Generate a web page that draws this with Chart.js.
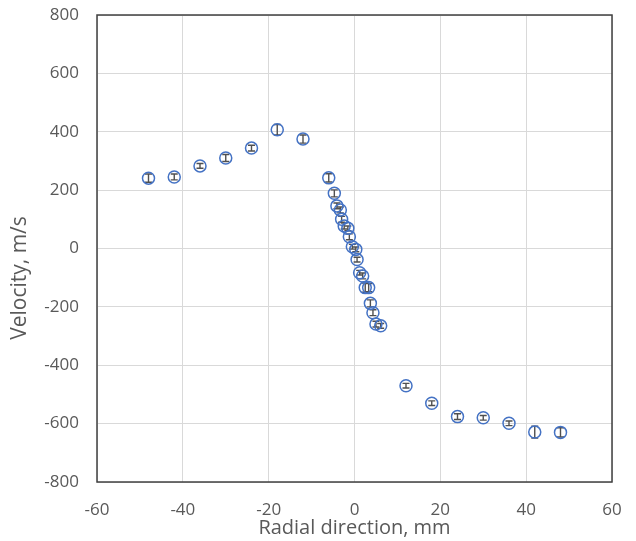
<!DOCTYPE html>
<html>
<head>
<meta charset="utf-8">
<script src="https://cdn.jsdelivr.net/npm/chart.js@4/dist/chart.umd.min.js"></script>
<style>
  html, body { margin: 0; padding: 0; background: #ffffff; }
  #wrap { width: 636px; height: 541px; position: relative; }
</style>
</head>
<body>
<div id="wrap"><canvas id="c" width="636" height="541"></canvas></div>
<script>
// Radial position (mm)
const radialMm = [-48, -42, -36, -30, -24, -18, -12, -6.0, -4.7, -4.1, -3.3, -3.0, -2.4, -1.55, -1.2, -0.5, 0.3, 0.6, 1.2, 1.9, 2.5, 3.3, 3.7, 4.3, 5.0, 6.1, 12, 18, 24, 30, 36, 42, 48];
// Velocity (m/s)
const velocity = [241, 245, 283, 310, 344, 407, 375, 242, 189, 146, 132, 100, 77, 69, 40, 6, -3, -38, -83, -94, -134, -134, -188, -220, -259, -265, -470, -530, -576, -580, -599, -629, -630];
// Error (± m/s)
const velocityErr = [14, 10, 8, 12, 10, 18, 14, 14, 12, 10, 10, 10, 10, 8, 10, 8, 8, 8, 8, 10, 16, 14, 12, 10, 10, 8, 8, 8, 10, 8, 8, 20, 16];

const xTicks = [-60, -40, -20, 0, 20, 40, 60];
const yTicks = [-800, -600, -400, -200, 0, 200, 400, 600, 800];
const xTitle = 'Radial direction, mm';
const yTitle = 'Velocity, m/s';

const points = radialMm.map((x, i) => ({ x: x, y: velocity[i] }));

const errorBars = {
  id: 'errorBars',
  beforeDatasetsDraw(chart) {
    const ctx = chart.ctx;
    const xs = chart.scales.x, ys = chart.scales.y;
    ctx.save();
    ctx.strokeStyle = '#505050';
    ctx.lineWidth = 1.4;
    radialMm.forEach((x, i) => {
      const px = xs.getPixelForValue(x);
      const pTop = ys.getPixelForValue(velocity[i] + velocityErr[i]);
      const pBot = ys.getPixelForValue(velocity[i] - velocityErr[i]);
      ctx.beginPath();
      ctx.moveTo(px, pTop); ctx.lineTo(px, pBot);
      ctx.moveTo(px - 3.5, pTop); ctx.lineTo(px + 3.5, pTop);
      ctx.moveTo(px - 3.5, pBot); ctx.lineTo(px + 3.5, pBot);
      ctx.stroke();
    });
    ctx.restore();
  },
  afterDraw(chart) {
    const a = chart.chartArea, ctx = chart.ctx;
    ctx.save();
    ctx.strokeStyle = '#404040';
    ctx.lineWidth = 1.5;
    ctx.strokeRect(a.left, a.top, a.right - a.left, a.bottom - a.top);
    // vertical axis title (centred as in the reference)
    ctx.translate(20.5, 278);
    ctx.rotate(-Math.PI / 2);
    ctx.fillStyle = '#595959';
    ctx.font = '21px "Open Sans"';
    ctx.textAlign = 'center';
    ctx.textBaseline = 'middle';
    ctx.fillText(yTitle, 0, 0);
    ctx.restore();
  }
};

function noPad(s) { s.paddingTop = 0; s.paddingBottom = 0; s.paddingLeft = 0; s.paddingRight = 0; }

new Chart(document.getElementById('c'), {
  type: 'scatter',
  data: {
    datasets: [{
      data: points,
      showLine: false,
      pointStyle: 'circle',
      pointRadius: 6,
      pointHoverRadius: 6,
      pointBorderWidth: 1.5,
      pointBorderColor: '#4472C4',
      pointBackgroundColor: 'rgba(0,0,0,0)'
    }]
  },
  options: {
    responsive: false,
    animation: false,
    devicePixelRatio: 1,
    layout: { padding: { left: 0, right: 24, top: 15, bottom: 0 } },
    plugins: { legend: { display: false }, tooltip: { enabled: false } },
    scales: {
      x: {
        type: 'linear', min: -60, max: 60,
        afterBuildTicks(s) { s.ticks = xTicks.map(v => ({ value: v })); },
        afterFit(s) { s.height = 59; noPad(s); },
        grid: { color: '#d9d9d9', lineWidth: 1, drawTicks: false },
        border: { display: false },
        ticks: { color: '#595959', padding: 18, font: { family: 'Open Sans', size: 17 } },
        title: { display: true, text: xTitle, color: '#595959', padding: { top: 0, bottom: 1 }, font: { family: 'Open Sans', size: 20 } }
      },
      y: {
        type: 'linear', min: -800, max: 800,
        afterBuildTicks(s) { s.ticks = yTicks.map(v => ({ value: v })); },
        afterFit(s) { s.width = 97; noPad(s); },
        grid: { color: '#d9d9d9', lineWidth: 1, drawTicks: false },
        border: { display: false },
        ticks: { color: '#595959', padding: 18, font: { family: 'Open Sans', size: 17 } },
        title: { display: false }
      }
    }
  },
  plugins: [errorBars]
});
</script>
</body>
</html>
